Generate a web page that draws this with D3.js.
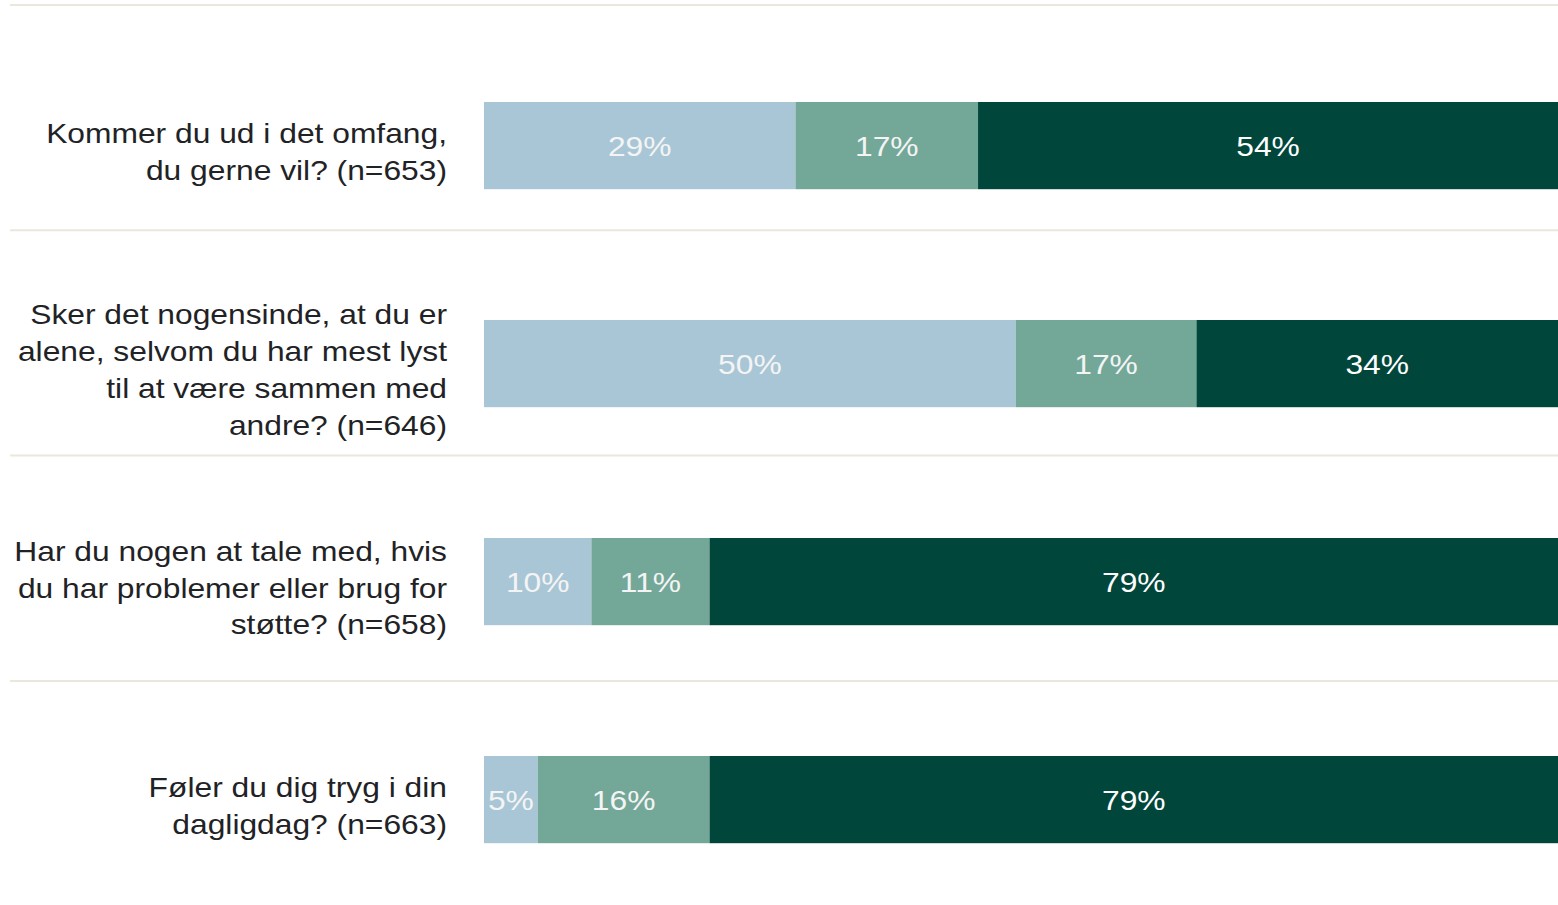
<!DOCTYPE html>
<html>
<head>
<meta charset="utf-8">
<script src="https://cdn.jsdelivr.net/npm/d3@7"></script>
<style>
  html, body { margin: 0; padding: 0; background: #ffffff; overflow: hidden; }
  svg { display: block; }
</style>
</head>
<body>
<svg id="chart" width="1558" height="905"></svg>
<script>
// ---- data ----
const categories = [
  "Kommer du ud i det omfang, du gerne vil? (n=653)",
  "Sker det nogensinde, at du er alene, selvom du har mest lyst til at være sammen med andre? (n=646)",
  "Har du nogen at tale med, hvis du har problemer eller brug for støtte? (n=658)",
  "Føler du dig tryg i din dagligdag? (n=663)"
];
const categoryLines = [
  ["Kommer du ud i det omfang,", "du gerne vil? (n=653)"],
  ["Sker det nogensinde, at du er", "alene, selvom du har mest lyst", "til at være sammen med", "andre? (n=646)"],
  ["Har du nogen at tale med, hvis", "du har problemer eller brug for", "støtte? (n=658)"],
  ["Føler du dig tryg i din", "dagligdag? (n=663)"]
];
const seriesKeys = ["s1", "s2", "s3"];
const s1 = [29, 50, 10, 5];
const s2 = [17, 17, 11, 16];
const s3 = [54, 34, 79, 79];
const colors = ["#a9c6d6", "#73a899", "#00463a"];
const labelColors = ["#f4f4f4", "#f4f4f4", "#ffffff"];

// ---- layout ----
const W = 1558, H = 905;
const svg = d3.select("#chart");
const FONT = "'Liberation Sans', Arial, sans-serif";
const STRETCH = 1.135;

const rows = categories.map((c, i) => ({ cat: c, lines: categoryLines[i], vals: [s1[i], s2[i], s3[i]] }));

const x = d3.scaleLinear().domain([0, 1]).range([484, 1558]);
const y = d3.scaleBand().domain(categories).range([36.6, 908.6]).paddingInner(0.6).paddingOuter(0.3);
const sep = d3.scaleLinear().domain([0, 1]).range([5, 230.3]);

// separators
svg.append("g").selectAll("line").data(d3.range(4)).join("line")
  .attr("x1", 10).attr("x2", W)
  .attr("y1", d => sep(d)).attr("y2", d => sep(d))
  .attr("stroke", "#ebe7dd").attr("stroke-width", 2);

// bars
rows.forEach(r => {
  const total = d3.sum(r.vals);
  let acc = 0;
  r.segs = r.vals.map((v, k) => {
    const s = { v, k, x0: acc / total, x1: (acc + v) / total };
    acc += v;
    return s;
  });
});

const rowG = svg.append("g").selectAll("g").data(rows).join("g")
  .attr("transform", d => `translate(0,${y(d.cat)})`);

rowG.selectAll("rect").data(d => d.segs).join("rect")
  .attr("x", d => x(d.x0))
  .attr("width", d => x(d.x1) - x(d.x0))
  .attr("y", 0)
  .attr("height", y.bandwidth())
  .attr("fill", d => colors[d.k]);

rowG.selectAll("text.val").data(d => d.segs).join("text")
  .attr("class", "val")
  .attr("transform", d => `translate(${(x(d.x0) + x(d.x1)) / 2},${y.bandwidth() / 2}) scale(${STRETCH},1)`)
  .attr("dy", "0.36em")
  .attr("text-anchor", "middle")
  .attr("font-family", FONT)
  .attr("font-size", 28)
  .attr("fill", d => labelColors[d.k])
  .text(d => d.v + "%");

// category labels
const lh = 36.8;
rowG.append("text")
  .attr("font-family", FONT)
  .attr("font-size", 28)
  .attr("fill", "#1f2326")
  .attr("text-anchor", "end")
  .attr("transform", d => `translate(447,${y.bandwidth() / 2 + 6}) scale(${STRETCH},1)`)
  .each(function(d) {
    const n = d.lines.length;
    const t = d3.select(this);
    d.lines.forEach((ln, i) => {
      t.append("tspan")
        .attr("x", 0)
        .attr("y", (i - (n - 1) / 2) * lh)
        .attr("dy", "0.36em")
        .text(ln);
    });
  });
</script>
</body>
</html>
